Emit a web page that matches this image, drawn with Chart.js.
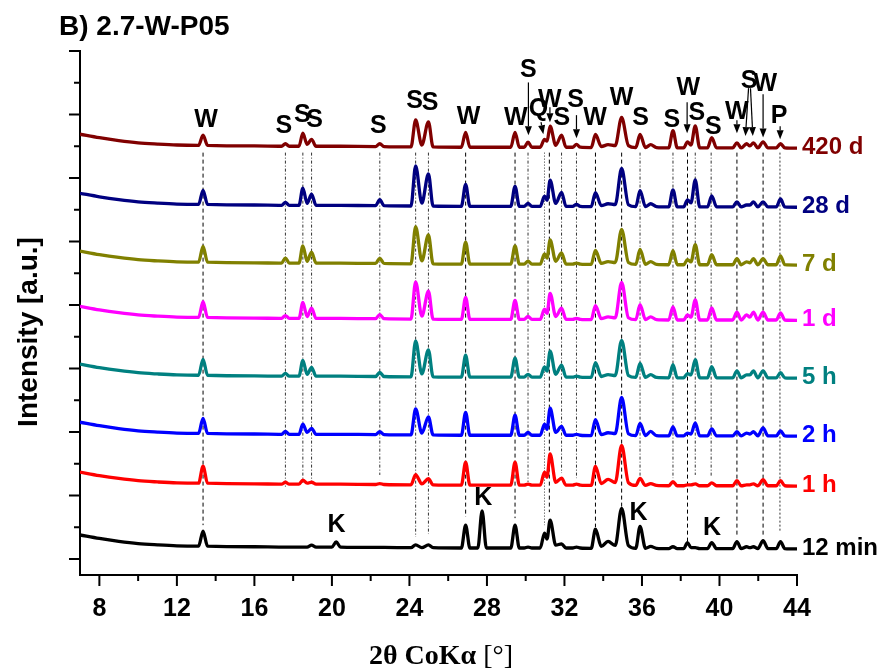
<!DOCTYPE html>
<html>
<head>
<meta charset="utf-8">
<script src="https://cdn.jsdelivr.net/npm/chart.js@4.4.0/dist/chart.umd.min.js"></script>
<style>
  html, body { margin: 0; padding: 0; background: #fff; }
  #wrap { width: 882px; height: 671px; }
</style>
</head>
<body>
<div id="wrap"><canvas id="xrd" width="882" height="671"></canvas></div>
<script>
// 2-theta positions shared by all patterns (baseline, peak tops, peak feet)
const twoTheta = [
  7, 8, 9, 10, 11, 12,
  13.12, 13.35, 13.58, 16,
  17.4, 17.6, 17.8,
  18.3, 18.5, 18.72, 18.95, 19.18,
  20.0, 20.22, 20.44,
  22.25, 22.47, 22.69,
  24.08, 24.32, 24.64, 24.98, 25.22,
  26.68, 26.9, 27.12, 27.53, 27.75, 27.97,
  29.23, 29.45, 29.67, 29.92, 30.12, 30.32,
  30.75, 30.97, 31.1, 31.26, 31.55, 31.85, 32.08,
  32.42, 32.62, 32.82,
  33.38, 33.6, 33.9, 34.25, 34.62, 34.95, 35.3,
  35.68, 35.9, 36.18, 36.45, 36.75,
  37.38, 37.6, 37.82,
  38.15, 38.35, 38.53, 38.75, 38.98,
  39.38, 39.6, 39.85,
  40.68, 40.9, 41.12, 41.4, 41.57, 41.75, 41.98,
  42.25, 42.5, 42.93, 43.15, 43.37, 44
];

// low-angle background common to all patterns
const background = [
  44, 33, 24, 17, 13, 10,
  9, 9, 9, 7,
  6, 6, 6,
  6, 6, 6, 6, 6,
  6, 6, 6,
  5, 5, 5,
  4, 4, 4, 4, 4,
  3, 3, 3, 3, 3, 3,
  3, 3, 3, 3, 3, 3,
  3, 3, 3, 3, 3, 3, 3,
  3, 3, 3,
  2, 2, 2, 2, 2, 2, 2,
  2, 2, 2, 2, 2,
  1, 1, 1,
  1, 1, 1, 1, 1,
  1, 1, 1,
  1, 1, 1, 1, 1, 1, 1,
  1, 1, 1, 1, 1, 0
];

const p12min = [
  0,0,0,0,0,0,  0,47,0,0,  0,0,0,  0,0,0,6,0,  0,16,0,  0,0,0,
  0,9,0,9,0,  0,72,0,0,117,0,  0,72,0,0,3,0,  0,47,28,88,9,13,0,  0,3,0,
  0,60,6,22,9,126,9,  0,69,0,6,0,  0,6,0,  0,19,3,3,0,  0,19,0,
  0,22,0,6,3,6,0,  25,0,0,22,0,0
];
const p1h = [
  0,0,0,0,0,0,  0,54,0,0,  0,6,0,  0,13,3,6,0,  0,0,0,  0,3,0,
  0,32,3,19,0,  0,72,0,0,0,0,  0,72,0,0,3,0,  0,41,25,98,9,22,0,  0,3,0,
  0,60,6,19,9,126,9,  0,22,0,6,0,  0,13,0,  0,3,3,6,0,  0,9,0,
  0,16,0,3,3,6,0,  19,0,0,16,0,0
];
const p2h = [
  0,0,0,0,0,0,  0,47,0,0,  0,9,0,  0,32,6,19,0,  0,0,0,  0,9,0,
  0,82,6,57,0,  0,72,0,0,0,0,  0,63,0,0,9,0,  0,35,19,85,9,28,0,  0,3,0,
  0,50,3,9,6,120,6,  0,38,0,13,0,  0,28,0,  0,9,6,41,0,  0,22,0,
  0,13,0,9,6,13,0,  25,0,0,16,0,0
];
const p5h = [
  0,0,0,0,0,0,  0,50,0,0,  0,9,0,  0,50,6,28,0,  0,0,0,  0,13,0,
  0,113,9,85,0,  0,69,0,0,0,0,  0,60,0,0,9,0,  0,32,19,82,9,38,0,  0,3,0,
  0,47,3,9,6,117,6,  0,44,0,9,0,  0,41,0,  0,13,9,57,0,  0,35,0,
  0,22,0,9,9,22,0,  22,0,0,16,0,0
];
const p1d = [
  0,0,0,0,0,0,  0,50,0,0,  0,9,0,  0,50,6,32,0,  0,0,0,  0,13,0,
  0,117,9,88,0,  0,69,0,0,0,0,  0,60,0,0,9,0,  0,32,19,82,9,35,0,  0,3,0,
  0,44,3,9,6,117,6,  0,47,0,9,0,  0,41,0,  0,16,9,63,0,  0,38,0,
  0,25,0,16,9,25,0,  25,0,0,22,0,0
];
const p7d = [
  0,0,0,0,0,0,  0,50,0,0,  0,16,0,  0,54,6,35,0,  0,0,0,  0,16,0,
  0,117,9,91,0,  0,69,0,0,0,0,  0,57,0,0,9,0,  0,32,19,76,9,35,0,  0,3,0,
  0,44,3,9,6,110,6,  0,47,0,9,0,  0,44,0,  0,16,9,63,0,  0,32,0,
  0,19,0,9,6,19,0,  19,0,0,28,0,0
];
const p28d = [
  0,0,0,0,0,0,  0,44,0,0,  0,9,0,  0,54,6,35,0,  0,0,0,  0,19,0,
  0,126,9,101,0,  0,69,0,0,0,0,  0,63,0,0,9,0,  0,32,19,82,9,44,0,  0,6,0,
  0,44,3,9,6,120,6,  0,50,0,9,0,  0,54,0,  0,22,13,85,0,  0,35,0,
  0,16,0,6,6,16,0,  16,0,0,25,0,0
];
const p420d = [
  0,0,0,0,0,0,  0,32,0,0,  0,8,0,  0,41,6,22,0,  0,0,0,  0,9,0,
  0,85,6,79,0,  0,47,0,0,0,0,  0,47,0,0,16,0,  0,25,19,66,6,38,0,  0,9,0,
  0,41,3,9,6,95,6,  0,41,0,9,0,  0,54,0,  0,19,9,69,0,  0,32,0,
  0,16,0,13,6,16,0,  19,0,0,13,0,0
];

const seriesNames  = ['12 min', '1 h', '2 h', '5 h', '1 d', '7 d', '28 d', '420 d'];
const seriesPeaks  = [p12min, p1h, p2h, p5h, p1d, p7d, p28d, p420d];
const seriesOffset = [82, 280, 437, 620, 802, 976, 1158, 1344];
const seriesColors = ['#000000', '#ff0000', '#0000ff', '#008080', '#ff00ff', '#808000', '#000080', '#800000'];

// dashed reference lines under the phase peaks
const refX      = [13.35, 17.6, 18.5, 18.95, 22.47, 24.32, 24.98, 26.9, 29.45, 30.12, 30.97, 31.22,
                   31.85, 32.62, 33.6, 34.95, 35.9, 37.6, 38.35, 38.75, 39.57, 40.9, 42.25, 43.12];
const refBottom = [157, 277, 290, 283, 315, 120, 129, 183, 179, 293, 157, 198,
                   321, 305, 151, 214, 305, 305, 104, 315, 308, 120, 120, 135];
const refKind   = ['W','S','S','S','S','S','S','W','W','S','Q','W',
                   'S','S','W','W','S','S','W','S','S','W','W','P'];
const refTop = 1330;

// phase letters
const letterText = ['W','S','S','S','S','S','S','W','W','S','Q','W','S','S','W',
                    'W','S','S','W','S','S','W','S','W','P','K','K','K','K'];
const letterX = [13.50, 17.52, 18.47, 19.11, 22.40, 24.26, 25.07, 27.05, 29.49, 30.14, 30.66, 31.24, 31.86, 32.58, 33.58,
                 34.95, 35.93, 37.54, 38.39, 38.83, 39.68, 40.89, 41.53, 42.36, 43.08, 20.24, 27.81, 35.82, 39.62];
const letterY = [1432, 1413, 1448, 1432, 1413, 1492, 1486, 1441, 1438, 1589, 1466, 1495, 1438, 1495, 1438,
                 1501, 1438, 1432, 1533, 1454, 1410, 1457, 1555, 1545, 1444, 157, 242, 196, 148];

// arrows from letters down to small peaks
const arrowX1 = [30.14, 30.79, 31.25, 32.62, 38.33, 40.90, 41.50, 41.60, 42.25, 43.13];
const arrowY1 = [1551, 1426, 1473, 1448, 1489, 1432, 1533, 1533, 1514, 1413];
const arrowX2 = [30.14, 30.91, 31.25, 32.62, 38.33, 40.90, 41.34, 41.72, 42.25, 43.13];
const arrowY2 = [1385, 1388, 1426, 1375, 1391, 1391, 1382, 1382, 1378, 1372];

const xTickLabels = [8, 12, 16, 20, 24, 28, 32, 36, 40, 44];
const xMinorTicks = [10, 14, 18, 22, 26, 30, 34, 38, 42];
const yMajorTicks = [50, 250, 450, 650, 850, 1050, 1250, 1450, 1650];
const yMinorTicks = [150, 350, 550, 750, 950, 1150, 1350, 1550];

const SANS = "'Liberation Sans', Arial, sans-serif";
const SERIF = "'Liberation Serif', 'Times New Roman', serif";

const dashByKind = { W: [4, 3], S: [3, 2, 1, 2], Q: [1, 2], P: [2, 2] };

const datasets = [];
seriesNames.forEach((name, i) => {
  datasets.push({
    label: name,
    data: twoTheta.map((t, k) => ({ x: t, y: seriesOffset[i] + background[k] + seriesPeaks[i][k] })),
    borderColor: seriesColors[i],
    borderWidth: 3.3,
    pointRadius: 0,
    cubicInterpolationMode: 'monotone',
    order: 0
  });
});
refX.forEach((t, i) => {
  datasets.push({
    label: 'ref',
    data: [{ x: t, y: refTop }, { x: t, y: refBottom[i] }],
    borderColor: refKind[i] === 'W' ? '#000' : '#333',
    borderWidth: 1,
    borderDash: dashByKind[refKind[i]],
    pointRadius: 0,
    order: 10
  });
});

const overlay = {
  id: 'overlay',
  afterDraw(chart) {
    const { ctx, chartArea, scales: { x, y } } = chart;
    ctx.save();

    // tick marks, pointing outwards
    ctx.strokeStyle = '#000';
    ctx.lineWidth = 2;
    ctx.beginPath();
    xTickLabels.forEach(v => { const px = x.getPixelForValue(v); ctx.moveTo(px, chartArea.bottom); ctx.lineTo(px, chartArea.bottom + 11); });
    xMinorTicks.forEach(v => { const px = x.getPixelForValue(v); ctx.moveTo(px, chartArea.bottom); ctx.lineTo(px, chartArea.bottom + 6); });
    yMajorTicks.forEach(v => { const py = y.getPixelForValue(v); ctx.moveTo(chartArea.left, py); ctx.lineTo(chartArea.left - 11, py); });
    yMinorTicks.forEach(v => { const py = y.getPixelForValue(v); ctx.moveTo(chartArea.left, py); ctx.lineTo(chartArea.left - 6, py); });
    ctx.stroke();

    // series names at the right end of each pattern
    ctx.font = `bold 24px ${SANS}`;
    ctx.textAlign = 'left';
    ctx.textBaseline = 'alphabetic';
    seriesNames.forEach((name, i) => {
      const pts = chart.getDatasetMeta(i).data;
      const last = pts[pts.length - 1];
      ctx.fillStyle = seriesColors[i];
      ctx.fillText(name, chartArea.right + 5, last.y + 6);
    });

    // phase letters
    ctx.fillStyle = '#000';
    ctx.font = `bold 25px ${SANS}`;
    ctx.textAlign = 'center';
    ctx.textBaseline = 'middle';
    letterText.forEach((s, i) => {
      ctx.fillText(s, x.getPixelForValue(letterX[i]), y.getPixelForValue(letterY[i]));
    });

    // arrows
    ctx.strokeStyle = '#000';
    ctx.lineWidth = 1.2;
    arrowX1.forEach((_, i) => {
      const x1 = x.getPixelForValue(arrowX1[i]), y1 = y.getPixelForValue(arrowY1[i]);
      const x2 = x.getPixelForValue(arrowX2[i]), y2 = y.getPixelForValue(arrowY2[i]);
      const a = Math.atan2(y2 - y1, x2 - x1);
      const hl = 9, hw = 3.5;
      const bx = x2 - hl * Math.cos(a), by = y2 - hl * Math.sin(a);
      ctx.beginPath();
      ctx.moveTo(x1, y1);
      ctx.lineTo(bx, by);
      ctx.stroke();
      ctx.beginPath();
      ctx.moveTo(x2, y2);
      ctx.lineTo(bx + hw * Math.sin(a), by - hw * Math.cos(a));
      ctx.lineTo(bx - hw * Math.sin(a), by + hw * Math.cos(a));
      ctx.closePath();
      ctx.fill();
    });

    // panel title
    ctx.textAlign = 'left';
    ctx.textBaseline = 'alphabetic';
    ctx.font = `bold 28px ${SANS}`;
    ctx.fillText('B) 2.7-W-P05', 59, 35);

    // y axis title
    ctx.save();
    ctx.translate(37, 332);
    ctx.rotate(-Math.PI / 2);
    ctx.textAlign = 'center';
    ctx.font = `bold 28px ${SANS}`;
    ctx.fillText('Intensity [a.u.]', 0, 0);
    ctx.restore();

    // x axis title: bold part + regular bracket part
    const partA = '2\u03b8 CoK\u03b1 ', partB = '[\u00b0]';
    ctx.font = `bold 28px ${SERIF}`;
    const wA = ctx.measureText(partA).width;
    ctx.font = `28px ${SERIF}`;
    const wB = ctx.measureText(partB).width;
    const x0 = 441 - (wA + wB) / 2;
    ctx.font = `bold 28px ${SERIF}`;
    ctx.fillText(partA, x0, 664);
    ctx.font = `28px ${SERIF}`;
    ctx.fillText(partB, x0 + wA, 664);

    ctx.restore();
  }
};

new Chart(document.getElementById('xrd'), {
  type: 'line',
  data: { datasets },
  options: {
    responsive: false,
    animation: false,
    devicePixelRatio: 1,
    layout: { padding: { left: 80, right: 85, top: 51, bottom: 0 } },
    plugins: { legend: { display: false }, tooltip: { enabled: false } },
    scales: {
      x: {
        type: 'linear',
        min: 7,
        max: 44,
        afterBuildTicks: s => { s.ticks = xTickLabels.map(v => ({ value: v })); },
        afterFit: s => { s.height = 96; },
        grid: { display: false, drawTicks: false },
        border: { display: true, color: '#000', width: 2 },
        ticks: { color: '#000', font: { family: SANS, size: 25, weight: 'bold' }, padding: 19, autoSkip: false, maxRotation: 0 }
      },
      y: {
        type: 'linear',
        min: 0,
        max: 1650,
        afterFit: s => { s.width = 0; },
        grid: { display: false, drawTicks: false },
        border: { display: true, color: '#000', width: 2 },
        ticks: { display: false }
      }
    }
  },
  plugins: [overlay]
});
</script>
</body>
</html>
